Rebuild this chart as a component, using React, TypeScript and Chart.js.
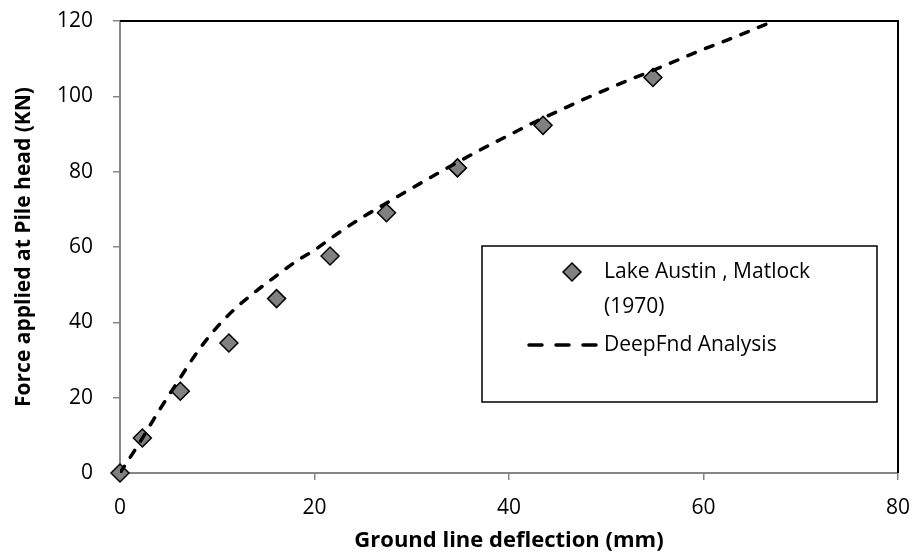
import { useEffect, useRef } from "react";
import { Chart, registerables } from "chart.js";

Chart.register(...registerables);

// ---- data ----
const measuredX = [0, 2.3, 6.2, 11.2, 16.1, 21.6, 27.4, 34.7, 43.5, 54.8];
const measuredY = [0, 9.3, 21.7, 34.5, 46.3, 57.6, 69.1, 81.0, 92.3, 105.0];

const analysisX = [0, 2, 4, 6, 8, 10, 12, 14, 16, 18, 20, 22.5, 25, 27.5, 30, 32.5, 35, 37.5, 40, 42.5, 45, 47.5, 50, 52.5, 55, 57.5, 60, 62.5, 65, 67.2];
const analysisY = [0, 8, 16.5, 24.5, 32.3, 38.8, 44.0, 48.3, 52.2, 56, 59.2, 63.8, 68, 71.8, 75.6, 79.3, 82.9, 86.4, 89.7, 93.0, 96, 99, 101.8, 104.5, 107.1, 109.8, 112.5, 115, 117.6, 120];

const seriesNames = ["Lake Austin , Matlock (1970)", "DeepFnd Analysis"];
const xTitle = "Ground line deflection (mm)";
const yTitle = "Force applied at Pile head (KN)";
const xRange = [0, 80, 20];
const yRange = [0, 120, 20];

const FONT = '"Open Sans", "DejaVu Sans", sans-serif';

const framePlugin = {
  id: "frameAndLegend",
  beforeDatasetsDraw(chart: any) {
    const { ctx, chartArea } = chart;
    const { left, top, right, bottom } = chartArea;
    ctx.save();
    ctx.strokeStyle = "#000";
    ctx.lineWidth = 2;
    ctx.beginPath();
    ctx.moveTo(left, top);
    ctx.lineTo(right, top);
    ctx.lineTo(right, bottom);
    ctx.stroke();
    ctx.restore();
  },
  afterDraw(chart: any) {
    const { ctx } = chart;
    const ds = chart.data.datasets;
    const bx = 482, by = 246, bw = 395, bh = 156;
    ctx.save();
    ctx.fillStyle = "#fff";
    ctx.fillRect(bx, by, bw, bh);
    ctx.strokeStyle = "#000";
    ctx.lineWidth = 1.5;
    ctx.strokeRect(bx, by, bw, bh);

    ctx.font = `21px ${FONT}`;
    ctx.fillStyle = "#000";
    ctx.textBaseline = "middle";
    ctx.textAlign = "left";
    const textX = 604;

    // entry 1: marker
    const mx = 572, my = 272, r = 9;
    ctx.beginPath();
    ctx.moveTo(mx, my - r);
    ctx.lineTo(mx + r, my);
    ctx.lineTo(mx, my + r);
    ctx.lineTo(mx - r, my);
    ctx.closePath();
    ctx.fillStyle = ds[0].backgroundColor;
    ctx.fill();
    ctx.strokeStyle = ds[0].borderColor;
    ctx.lineWidth = 1.5;
    ctx.stroke();

    // wrap label
    ctx.fillStyle = "#000";
    const words = String(ds[0].label).split(" ");
    const lines: string[] = [];
    let cur = "";
    const maxW = 260;
    for (const w of words) {
      const test = cur ? cur + " " + w : w;
      if (ctx.measureText(test).width > maxW && cur) {
        lines.push(cur);
        cur = w;
      } else cur = test;
    }
    if (cur) lines.push(cur);
    lines.forEach((ln, i) => ctx.fillText(ln, textX, my + i * 35));

    // entry 2: dashed line sample
    const ly = 345;
    ctx.beginPath();
    ctx.setLineDash([13, 14]);
    ctx.lineCap = "round";
    ctx.lineWidth = ds[1].borderWidth;
    ctx.strokeStyle = ds[1].borderColor;
    ctx.moveTo(529, ly);
    ctx.lineTo(596, ly);
    ctx.stroke();
    ctx.setLineDash([]);
    ctx.fillText(String(ds[1].label), textX, ly);
    ctx.restore();
  },
};

export default function App() {
  const ref = useRef<HTMLCanvasElement | null>(null);

  useEffect(() => {
    if (!ref.current) return;
    const chart = new Chart(ref.current, {
      type: "scatter",
      data: {
        datasets: [
          {
            label: seriesNames[0],
            data: measuredX.map((x, i) => ({ x, y: measuredY[i] })),
            pointStyle: "rectRot",
            pointRadius: 9,
            pointBorderWidth: 1.5,
            backgroundColor: "#808080",
            borderColor: "#000",
            showLine: false,
            clip: 20,
            order: 1,
          } as any,
          {
            label: seriesNames[1],
            data: analysisX.map((x, i) => ({ x, y: analysisY[i] })),
            showLine: true,
            borderColor: "#000",
            backgroundColor: "#000",
            borderWidth: 3.5,
            borderDash: [8, 11],
            borderCapStyle: "round",
            pointRadius: 0,
            tension: 0.3,
            cubicInterpolationMode: "monotone",
            fill: false,
            order: 0,
          } as any,
        ],
      },
      options: {
        responsive: false,
        animation: false,
        events: [],
        layout: { padding: { top: 21, right: 17, left: 0, bottom: 0 } },
        plugins: {
          legend: { display: false },
          tooltip: { enabled: false },
          title: { display: false },
        },
        scales: {
          x: {
            type: "linear",
            min: xRange[0],
            max: xRange[1],
            ticks: {
              stepSize: xRange[2],
              color: "#000",
              font: { family: FONT, size: 21 },
              padding: 15,
            },
            grid: {
              display: true,
              drawOnChartArea: false,
              drawTicks: true,
              tickLength: 7,
              color: "#868686",
              lineWidth: 1.5,
            },
            border: { display: true, color: "#868686", width: 2 },
            title: {
              display: true,
              text: xTitle,
              color: "#000",
              font: { family: FONT, size: 22, weight: "bold" },
              padding: { top: 0, bottom: 1 },
            },
            afterFit(scale: any) {
              scale.height = 82;
              scale.paddingLeft = 0;
              scale.paddingRight = 0;
            },
          } as any,
          y: {
            type: "linear",
            min: yRange[0],
            max: yRange[1],
            ticks: {
              stepSize: yRange[2],
              color: "#000",
              font: { family: FONT, size: 21 },
              padding: 20,
            },
            grid: {
              display: true,
              drawOnChartArea: false,
              drawTicks: true,
              tickLength: 7,
              color: "#868686",
              lineWidth: 1.5,
            },
            border: { display: true, color: "#868686", width: 2 },
            title: {
              display: true,
              text: yTitle,
              color: "#000",
              font: { family: FONT, size: 21, weight: "bold" },
              padding: { top: 11, bottom: 0 },
            },
            afterFit(scale: any) {
              scale.width = 120;
              scale.paddingTop = 0;
              scale.paddingBottom = 0;
            },
          } as any,
        },
      },
      plugins: [framePlugin],
    });
    return () => chart.destroy();
  }, []);

  return (
    <div style={{ position: "fixed", left: 0, top: 0, width: 915, height: 555, background: "#fff" }}>
      <canvas ref={ref} width={915} height={555} />
    </div>
  );
}
